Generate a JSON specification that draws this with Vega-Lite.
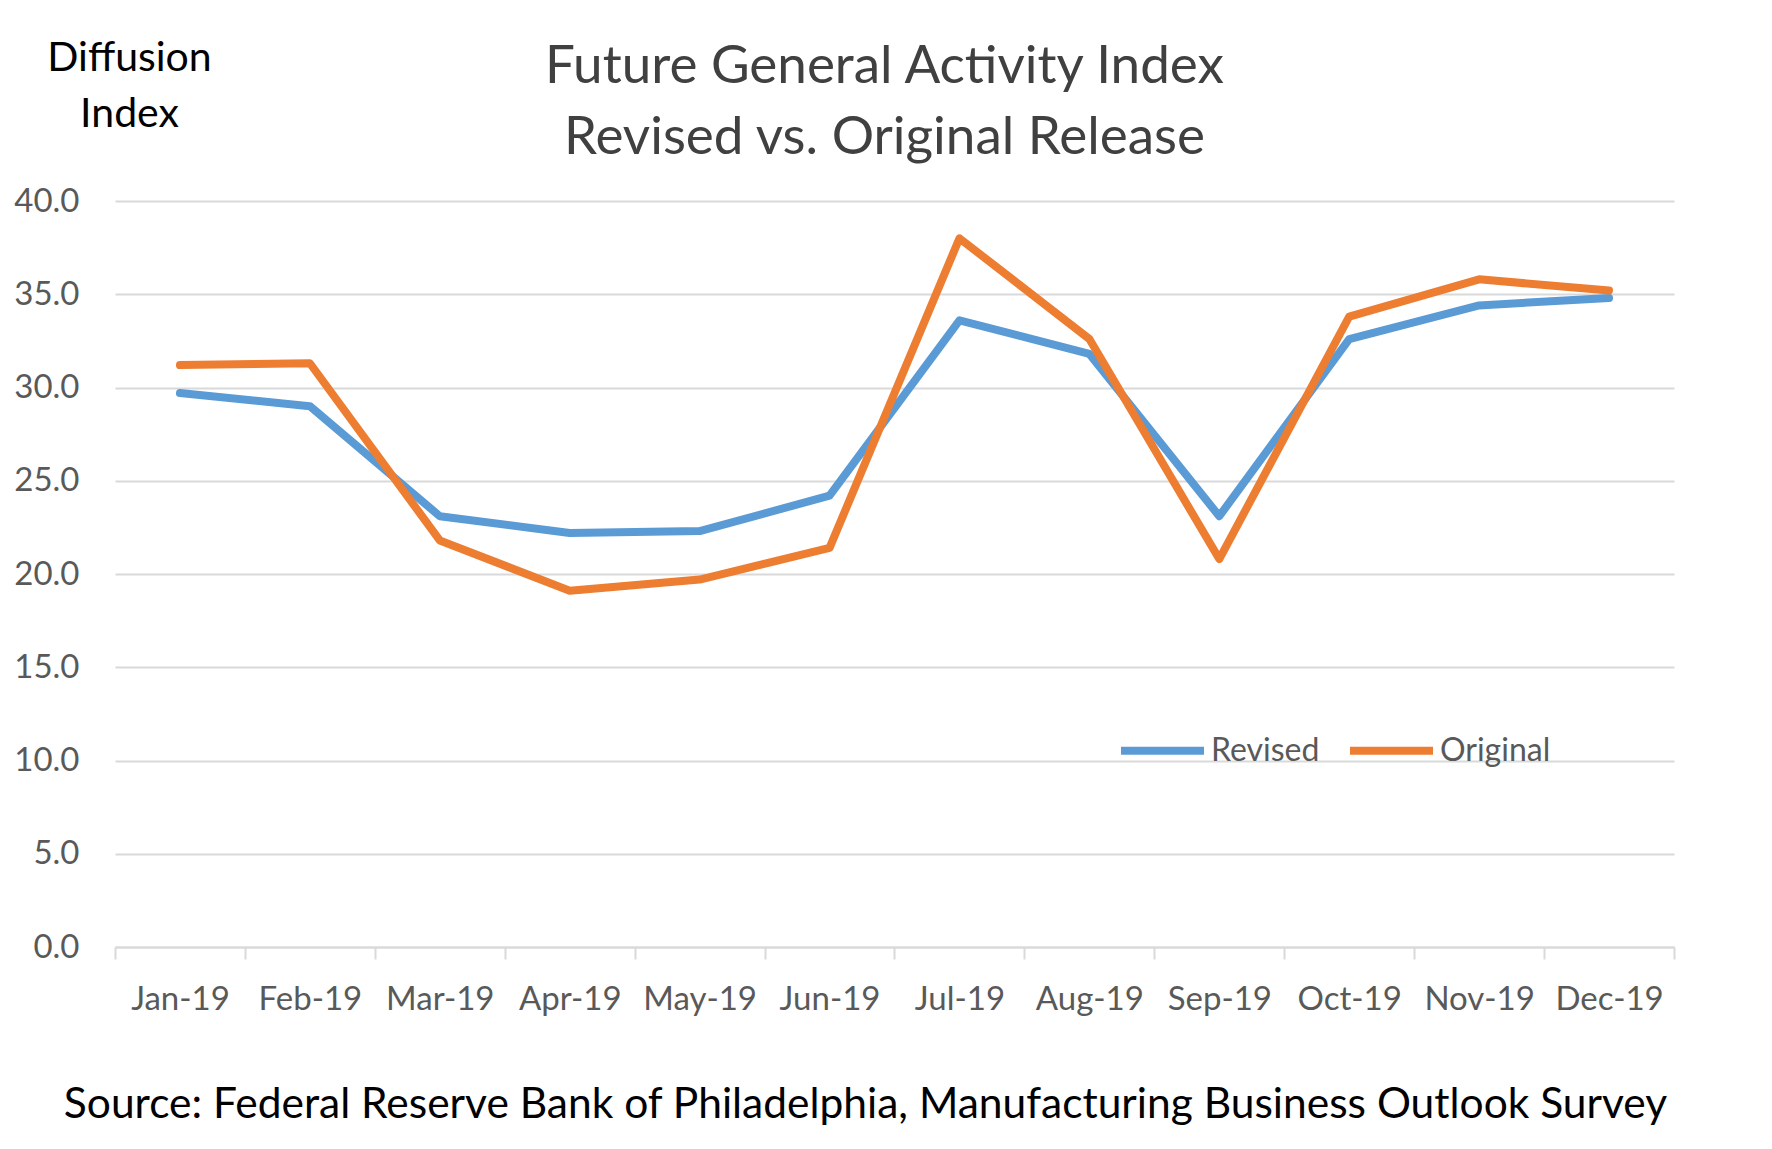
{
  "$schema": "https://vega.github.io/schema/vega-lite/v6.json",
  "width": 1559,
  "height": 746,
  "autosize": {"type": "none"},
  "padding": {"left": 115, "top": 201, "right": 98, "bottom": 202},
  "background": "white",
  "title": {
    "text": ["Future General Activity Index", "Revised vs. Original Release"],
    "font": "Lato",
    "fontSize": 53,
    "fontWeight": "normal",
    "color": "#404040",
    "lineHeight": 71,
    "anchor": "middle",
    "frame": "group",
    "baseline": "bottom",
    "dx": -10,
    "offset": -181
  },
  "data": {
    "values": [
      {"month": "Jan-19", "series": "Revised", "value": 29.7},
      {"month": "Feb-19", "series": "Revised", "value": 29.0},
      {"month": "Mar-19", "series": "Revised", "value": 23.1},
      {"month": "Apr-19", "series": "Revised", "value": 22.2},
      {"month": "May-19", "series": "Revised", "value": 22.3},
      {"month": "Jun-19", "series": "Revised", "value": 24.2},
      {"month": "Jul-19", "series": "Revised", "value": 33.6},
      {"month": "Aug-19", "series": "Revised", "value": 31.8},
      {"month": "Sep-19", "series": "Revised", "value": 23.1},
      {"month": "Oct-19", "series": "Revised", "value": 32.6},
      {"month": "Nov-19", "series": "Revised", "value": 34.4},
      {"month": "Dec-19", "series": "Revised", "value": 34.8},
      {"month": "Jan-19", "series": "Original", "value": 31.2},
      {"month": "Feb-19", "series": "Original", "value": 31.3},
      {"month": "Mar-19", "series": "Original", "value": 21.8},
      {"month": "Apr-19", "series": "Original", "value": 19.1},
      {"month": "May-19", "series": "Original", "value": 19.7},
      {"month": "Jun-19", "series": "Original", "value": 21.4},
      {"month": "Jul-19", "series": "Original", "value": 38.0},
      {"month": "Aug-19", "series": "Original", "value": 32.6},
      {"month": "Sep-19", "series": "Original", "value": 20.8},
      {"month": "Oct-19", "series": "Original", "value": 33.8},
      {"month": "Nov-19", "series": "Original", "value": 35.8},
      {"month": "Dec-19", "series": "Original", "value": 35.2}
    ]
  },
  "mark": {"type": "line", "strokeWidth": 8, "strokeCap": "round", "strokeJoin": "round"},
  "encoding": {
    "x": {
      "field": "month",
      "type": "ordinal",
      "sort": null,
      "bandPosition": 0.5,
      "scale": {"type": "band", "paddingInner": 0, "paddingOuter": 0},
      "axis": {
        "title": "Source: Federal Reserve Bank of Philadelphia, Manufacturing Business Outlook Survey",
        "titleFont": "Lato",
        "titleFontSize": 42.5,
        "titleFontWeight": "normal",
        "titleColor": "#000000",
        "titleAnchor": "start",
        "titleAlign": "center",
        "titleBaseline": "alphabetic",
        "titleX": 750,
        "titleY": 170,
        "labelAngle": 0,
        "labelFont": "Lato",
        "labelFontSize": 33,
        "labelColor": "#595959",
        "labelPadding": 24,
        "tickBand": "extent",
        "tickColor": "#d9d9d9",
        "tickWidth": 2,
        "tickSize": 12,
        "domainColor": "#d9d9d9",
        "domainWidth": 2,
        "grid": false
      }
    },
    "y": {
      "field": "value",
      "type": "quantitative",
      "scale": {"domain": [0, 40], "nice": false, "zero": true},
      "axis": {
        "values": [0, 5, 10, 15, 20, 25, 30, 35, 40],
        "format": ".1f",
        "title": ["Diffusion", "Index"],
        "titleAngle": 0,
        "titleFont": "Lato",
        "titleFontSize": 41,
        "titleFontWeight": "normal",
        "titleColor": "#000000",
        "titleAlign": "center",
        "titleBaseline": "alphabetic",
        "titleLineHeight": 56,
        "titleAnchor": "start",
        "titleX": 14,
        "titleY": -131,
        "labelFont": "Lato",
        "labelFontSize": 33,
        "labelColor": "#595959",
        "labelPadding": 36,
        "domain": false,
        "ticks": false,
        "grid": true,
        "gridColor": "#d9d9d9",
        "gridWidth": 2
      }
    },
    "color": {
      "field": "series",
      "type": "nominal",
      "sort": ["Revised", "Original"],
      "scale": {"domain": ["Revised", "Original"], "range": ["#5B9BD5", "#ED7D31"]},
      "legend": {
        "title": null,
        "orient": "none",
        "legendX": 1002,
        "legendY": 504,
        "direction": "horizontal",
        "symbolType": "stroke",
        "symbolSize": 6889,
        "symbolStrokeWidth": 8,
        "labelFont": "Lato",
        "labelFontSize": 32,
        "labelColor": "#595959",
        "labelOffset": 3,
        "columnPadding": 14
      }
    }
  },
  "config": {
    "view": {"stroke": null},
    "font": "Lato"
  }
}
